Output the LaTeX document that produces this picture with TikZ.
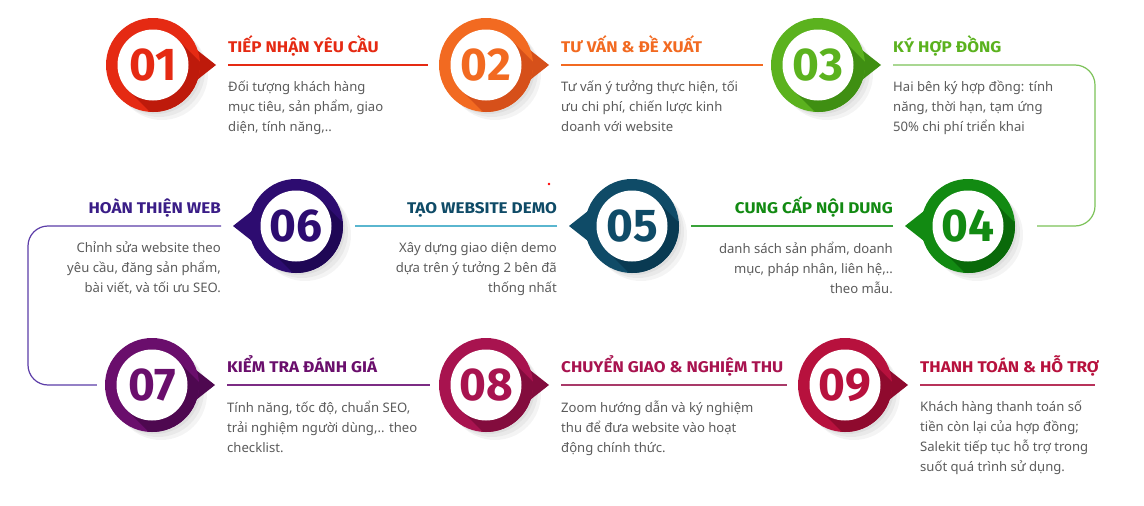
\documentclass[tikz,border=0pt]{standalone}
\usepackage{fontspec}
\setmainfont{Noto Sans}
\newfontfamily\headfont{Fira Sans}[FakeStretch=1.1]
\newfontfamily\numfont{Fira Sans}
\usetikzlibrary{calc,positioning}
\definecolor{Body}{HTML}{5B5B5B}
\definecolor{RedA}{HTML}{E52A13}
\definecolor{RedD}{HTML}{BE1A0B}
\definecolor{OraA}{HTML}{F26A21}
\definecolor{OraD}{HTML}{D6501A}
\definecolor{GrnA}{HTML}{5BB21E}
\definecolor{GrnD}{HTML}{3F8F12}
\definecolor{GrnL}{HTML}{7CC258}
\definecolor{DgrA}{HTML}{128A12}
\definecolor{DgrD}{HTML}{0A690A}
\definecolor{DgrL}{HTML}{3AA33A}
\definecolor{TealA}{HTML}{0F4B67}
\definecolor{TealD}{HTML}{093A52}
\definecolor{TealL}{HTML}{5AB6CF}
\definecolor{IndA}{HTML}{2D0C70}
\definecolor{IndD}{HTML}{1F0755}
\definecolor{IndT}{HTML}{3A1D87}
\definecolor{IndL}{HTML}{5C3DA8}
\definecolor{PurA}{HTML}{6A0E6C}
\definecolor{PurD}{HTML}{4E0850}
\definecolor{PurL}{HTML}{7C2C84}
\definecolor{CrmA}{HTML}{A8134F}
\definecolor{CrmD}{HTML}{830C3D}
\definecolor{CrmL}{HTML}{A93A69}
\definecolor{RosA}{HTML}{B7113D}
\definecolor{RosD}{HTML}{8F0A2E}
\definecolor{RosL}{HTML}{B8325A}
\tikzset{
  ringnode/.style={circle,minimum size=94pt,inner sep=0pt},
  holenode/.style={circle,fill=white,minimum size=71pt,inner sep=0pt,font=\numfont\bfseries\fontsize{46}{46}\selectfont},
  steptitle/.style={inner sep=0pt,font=\headfont\bfseries\fontsize{15.5}{17}\selectfont},
  stepbody/.style={inner sep=0pt,text=Body,font=\fontsize{13.1}{20}\selectfont,execute at begin node=\strut},
  stepline/.style={line width=1.2pt},
}
% #1 name, #2 centre, #3 number, #4 ring, #5 shade, #6 pointer angle, #7 pointer colour
\newcommand\numring[7]{%
  \foreach \s in {3,6,9}
    \fill[black,opacity=.045] ($#2+(\s,\s)$) circle (46);
  \fill[#7] ($#2+(#6:63)$) -- ($#2+(#6+30:42)$) -- ($#2+(#6-30:42)$) -- cycle;
  \node[ringnode,fill=#4] (#1) at #2 {};
  \begin{scope}
    \clip #2 circle (47);
    \fill[#5] ($#2+(25,-25)$) -- ($#2+(-25,25)$) -- ++(90,90) -- ($#2+(115,65)$) -- cycle;
  \end{scope}
  \node[holenode,text=#4] (#1n) at #2 {#3};
}

\begin{document}
\begin{tikzpicture}[x=1pt,y=-1pt]
  \path[use as bounding box,fill=white] (0,0) rectangle (1144,506);

  % row 1
  \numring{c1}{(153,65)}{01}{RedA}{RedD}{0}{RedD}
  \numring{c2}{(486,65)}{02}{OraA}{OraD}{0}{OraD}
  \numring{c3}{(818,65)}{03}{GrnA}{GrnD}{0}{GrnD}
  % row 2
  \numring{c4}{(968,226)}{04}{DgrA}{DgrD}{180}{DgrA}
  \numring{c5}{(632,226)}{05}{TealA}{TealD}{180}{TealA}
  \numring{c6}{(296,226)}{06}{IndA}{IndD}{180}{IndA}
  % row 3
  \numring{c7}{(152,385)}{07}{PurA}{PurD}{0}{PurD}
  \numring{c8}{(486,385)}{08}{CrmA}{CrmD}{0}{CrmD}
  \numring{c9}{(845,385)}{09}{RosA}{RosD}{0}{RosD}

  % titles and texts
  \node[steptitle,text=RedA,anchor=base west] (t1) at ($(c1)+(75,-13)$) {TIẾP NHẬN YÊU CẦU};
  \node[stepbody,anchor=north west,align=left] (b1) at ($(c1)+(75,16)$) {Đối tượng khách hàng\\mục tiêu, sản phẩm, giao\\diện, tính năng,..};
  \node[steptitle,text=OraA,anchor=base west] (t2) at ($(c2)+(75,-13)$) {TƯ VẤN \& ĐỀ XUẤT};
  \node[stepbody,anchor=north west,align=left] (b2) at ($(c2)+(75,16)$) {Tư vấn ý tưởng thực hiện, tối\\ưu chi phí, chiến lược kinh\\doanh với website};
  \node[steptitle,text=GrnA,anchor=base west] (t3) at ($(c3)+(75,-13)$) {KÝ HỢP ĐỒNG};
  \node[stepbody,anchor=north west,align=left] (b3) at ($(c3)+(75,16)$) {Hai bên ký hợp đồng: tính\\năng, thời hạn, tạm ứng\\50\% chi phí triển khai};

  \node[steptitle,text=DgrA,anchor=base east] (t4) at ($(c4)+(-75,-13)$) {CUNG CẤP NỘI DUNG};
  \node[stepbody,anchor=north east,align=right] (b4) at ($(c4)+(-75,16)$) {danh sách sản phẩm, doanh\\mục, pháp nhân, liên hệ,..\\theo mẫu.};
  \node[steptitle,text=TealA,anchor=base east] (t5) at ($(c5)+(-75,-13)$) {TẠO WEBSITE DEMO};
  \node[stepbody,anchor=north east,align=right] (b5) at ($(c5)+(-75,16)$) {Xây dựng giao diện demo\\dựa trên ý tưởng 2 bên đã\\thống nhất};
  \node[steptitle,text=IndT,anchor=base east] (t6) at ($(c6)+(-75,-13)$) {HOÀN THIỆN WEB};
  \node[stepbody,anchor=north east,align=right] (b6) at ($(c6)+(-75,16)$) {Chỉnh sửa website theo\\yêu cầu, đăng sản phẩm,\\bài viết, và tối ưu SEO.};

  \node[steptitle,text=PurA,anchor=base west] (t7) at ($(c7)+(75,-13)$) {KIỂM TRA ĐÁNH GIÁ};
  \node[stepbody,anchor=north west,align=left] (b7) at ($(c7)+(75,16)$) {Tính năng, tốc độ, chuẩn SEO,\\trải nghiệm người dùng,.. theo\\checklist.};
  \node[steptitle,text=CrmA,anchor=base west] (t8) at ($(c8)+(75,-13)$) {CHUYỂN GIAO \& NGHIỆM THU};
  \node[stepbody,anchor=north west,align=left] (b8) at ($(c8)+(75,16)$) {Zoom hướng dẫn và ký nghiệm\\thu để đưa website vào hoạt\\động chính thức.};
  \node[steptitle,text=RosA,anchor=base west] (t9) at ($(c9)+(75,-13)$) {THANH TOÁN \& HỖ TRỢ};
  \node[stepbody,anchor=north west,align=left] (b9) at ($(c9)+(75,16)$) {Khách hàng thanh toán số\\tiền còn lại của hợp đồng;\\Salekit tiếp tục hỗ trợ trong\\suốt quá trình sử dụng.};

  % lines under the titles
  \draw[stepline,RedA] ($(c1)+(75,0)$) -- ($(c2.west)+(-11,0)$);
  \draw[stepline,OraA] ($(c2)+(75,0)$) -- ($(c3.west)+(-8,0)$);
  \draw[stepline,DgrL] ($(c4)+(-75,0)$) -- ($(c5.east)+(12,0)$);
  \draw[stepline,TealL] ($(c5)+(-75,0)$) -- ($(c6.east)+(12,0)$);
  \draw[stepline,PurL] ($(c7)+(75,0)$) -- ($(c8.west)+(-9,0)$);
  \draw[stepline,CrmL] ($(c8)+(75,0)$) -- ($(c9.west)+(-11,0)$);
  \draw[stepline,RosL] ($(c9)+(75,0)$) -- ++(175,0);

  % turns between rows
  \coordinate (k34) at (1095,65);
  \coordinate (k67) at (28,226);
  \draw[stepline,GrnL,rounded corners=20] ($(c3)+(75,0)$) -- (k34) -- (k34 |- c4) -- ($(c4.east)+(22,0)$);
  \draw[stepline,IndL,rounded corners=20] ($(c6)+(-75,0)$) -- (k67) -- (k67 |- c7) -- ($(c7.west)+(-8,0)$);

  \fill[red] (549,184) circle (1.3);
\end{tikzpicture}
\end{document}
